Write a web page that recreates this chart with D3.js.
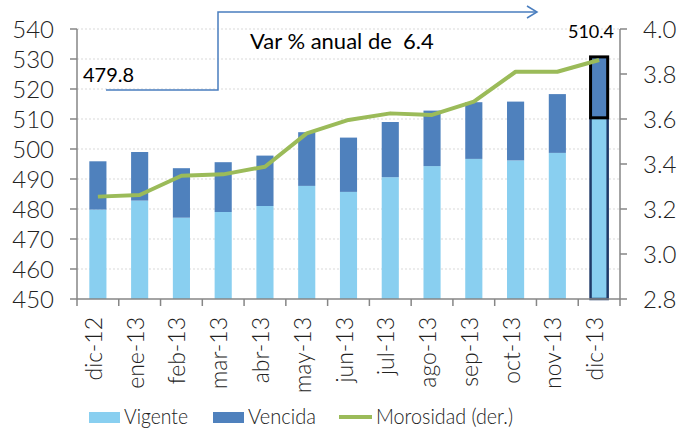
<!DOCTYPE html>
<html>
<head>
<meta charset="utf-8">
<script src="https://cdn.jsdelivr.net/npm/d3@7"></script>
<style>
  body { margin: 0; background: #fff; }
  svg text { font-family: Lato, "Open Sans", sans-serif; }
</style>
</head>
<body>
<div id="chart"></div>
<script>
// datos
const meses = ["dic-12","ene-13","feb-13","mar-13","abr-13","may-13","jun-13","jul-13","ago-13","sep-13","oct-13","nov-13","dic-13"];
const vigente = [479.8, 482.8, 477.1, 479.0, 481.0, 487.7, 485.7, 490.6, 494.3, 496.7, 496.2, 498.7, 510.4];
const vencida = [16.1, 16.2, 16.5, 16.6, 16.8, 17.9, 18.1, 18.4, 18.5, 18.9, 19.6, 19.6, 20.3];
const morosidad = [3.255, 3.262, 3.348, 3.354, 3.388, 3.536, 3.596, 3.625, 3.618, 3.677, 3.81, 3.81, 3.862];
const ticksIzq = [450, 460, 470, 480, 490, 500, 510, 520, 530, 540];
const ticksDer = [2.8, 3.0, 3.2, 3.4, 3.6, 3.8, 4.0];

const W = 679, H = 429;
const pLeft = 77, pRight = 620, pTop = 29, pBottom = 299;
const axisColor = "#868686";

const svg = d3.select("#chart").append("svg").attr("width", W).attr("height", H);

// escalas
const x = d3.scaleBand().domain(meses).range([pLeft, pRight]).paddingInner(0.59).paddingOuter(0.295);
const yL = d3.scaleLinear().domain([450, 540]).range([pBottom, pTop]);
const yR = d3.scaleLinear().domain([2.8, 4.0]).range([pBottom, pTop]);

// rejilla
svg.append("g").selectAll("line").data(ticksIzq.slice(1)).enter().append("line")
  .attr("x1", pLeft).attr("x2", pRight).attr("y1", d => yL(d)).attr("y2", d => yL(d))
  .attr("stroke", "#d9d9d9").attr("stroke-dasharray", "2,2");

// barras
const bw = x.bandwidth();
const n = meses.length;
svg.append("g").selectAll("rect").data(meses).enter().append("rect")
  .attr("x", d => x(d)).attr("width", bw)
  .attr("y", (d, i) => yL(vigente[i])).attr("height", (d, i) => yL(450) - yL(vigente[i]))
  .attr("fill", "#89cff0")
  .attr("stroke", (d, i) => i == n - 1 ? "#1f3a68" : "none").attr("stroke-width", 2.5);
svg.append("g").selectAll("rect").data(meses).enter().append("rect")
  .attr("x", d => x(d)).attr("width", bw)
  .attr("y", (d, i) => yL(vigente[i] + vencida[i])).attr("height", (d, i) => yL(vigente[i]) - yL(vigente[i] + vencida[i]))
  .attr("fill", "#4f81bd")
  .attr("stroke", (d, i) => i == n - 1 ? "#000" : "none").attr("stroke-width", 3);

// linea morosidad
const line = d3.line().x((d, i) => x(meses[i]) + bw / 2).y(d => yR(d));
svg.append("path").attr("d", line(morosidad)).attr("fill", "none")
  .attr("stroke", "#9bbb59").attr("stroke-width", 4).attr("stroke-linejoin", "round");

// ejes
svg.append("line").attr("x1", pLeft).attr("x2", pLeft).attr("y1", pTop).attr("y2", pBottom).attr("stroke", axisColor).attr("stroke-width", 1.5);
svg.append("line").attr("x1", pRight).attr("x2", pRight).attr("y1", pTop).attr("y2", pBottom).attr("stroke", axisColor).attr("stroke-width", 1.5);
svg.append("line").attr("x1", pLeft).attr("x2", pRight).attr("y1", pBottom).attr("y2", pBottom).attr("stroke", axisColor).attr("stroke-width", 1.5);

const gL = svg.append("g");
gL.selectAll("line").data(ticksIzq).enter().append("line")
  .attr("x1", pLeft - 7).attr("x2", pLeft).attr("y1", d => yL(d)).attr("y2", d => yL(d)).attr("stroke", axisColor).attr("stroke-width", 1.5);
gL.selectAll("text").data(ticksIzq).enter().append("text")
  .attr("x", 54).attr("y", d => yL(d)).attr("dy", "0.36em").attr("text-anchor", "end")
  .attr("font-size", 24).attr("font-weight", 300).attr("fill", "#222").text(d => d);

const gR = svg.append("g");
gR.selectAll("line").data(ticksDer).enter().append("line")
  .attr("x1", pRight).attr("x2", pRight + 7).attr("y1", d => yR(d)).attr("y2", d => yR(d)).attr("stroke", axisColor).attr("stroke-width", 1.5);
gR.selectAll("text").data(ticksDer).enter().append("text")
  .attr("x", 643).attr("y", d => yR(d)).attr("dy", "0.36em")
  .attr("font-size", 24).attr("font-weight", 300).attr("fill", "#222").text(d => d3.format(".1f")(d));

const step = x.step();
svg.append("g").selectAll("line").data(d3.range(n + 1)).enter().append("line")
  .attr("x1", i => pLeft + i * step).attr("x2", i => pLeft + i * step)
  .attr("y1", pBottom).attr("y2", pBottom + 7).attr("stroke", axisColor).attr("stroke-width", 1.5);
svg.append("g").selectAll("text").data(meses).enter().append("text")
  .attr("transform", d => "translate(" + (x(d) + bw / 2 + 4) + "," + 317 + ") rotate(-90)")
  .attr("text-anchor", "end").attr("font-size", 23).attr("font-weight", 300).attr("fill", "#222").text(d => d);

// anotaciones
const blue = "#4a7ebf";
svg.append("polyline").attr("points", "106,90 218,90 218,12 536,12").attr("fill", "none").attr("stroke", blue).attr("stroke-width", 1.5);
svg.append("polyline").attr("points", "527,6 537,12 527,18").attr("fill", "none").attr("stroke", blue).attr("stroke-width", 1.5);
svg.append("text").attr("x", 83).attr("y", 82).attr("font-size", 20).attr("fill", "#000").text("479.8");
svg.append("text").attr("x", 250).attr("y", 49).attr("font-size", 22).attr("fill", "#000").style("white-space", "pre").text("Var % anual de  6.4");
svg.append("text").attr("x", 614).attr("y", 38).attr("text-anchor", "end").attr("font-size", 18).attr("fill", "#000").text("510.4");

// leyenda
const leg = svg.append("g");
leg.append("rect").attr("x", 89).attr("y", 412).attr("width", 31).attr("height", 11).attr("fill", "#89cff0");
leg.append("text").attr("x", 124).attr("y", 424).attr("font-size", 22).attr("font-weight", 300).attr("fill", "#222")
  .attr("textLength", 64).attr("lengthAdjust", "spacingAndGlyphs").text("Vigente");
leg.append("rect").attr("x", 213).attr("y", 412).attr("width", 31).attr("height", 11).attr("fill", "#4f81bd");
leg.append("text").attr("x", 248).attr("y", 424).attr("font-size", 22).attr("font-weight", 300).attr("fill", "#222")
  .attr("textLength", 68).attr("lengthAdjust", "spacingAndGlyphs").text("Vencida");
leg.append("line").attr("x1", 339).attr("x2", 372).attr("y1", 417).attr("y2", 417).attr("stroke", "#9bbb59").attr("stroke-width", 4);
leg.append("text").attr("x", 376).attr("y", 424).attr("font-size", 22).attr("font-weight", 300).attr("fill", "#222")
  .attr("textLength", 137).attr("lengthAdjust", "spacingAndGlyphs").text("Morosidad (der.)");
</script>
</body>
</html>
